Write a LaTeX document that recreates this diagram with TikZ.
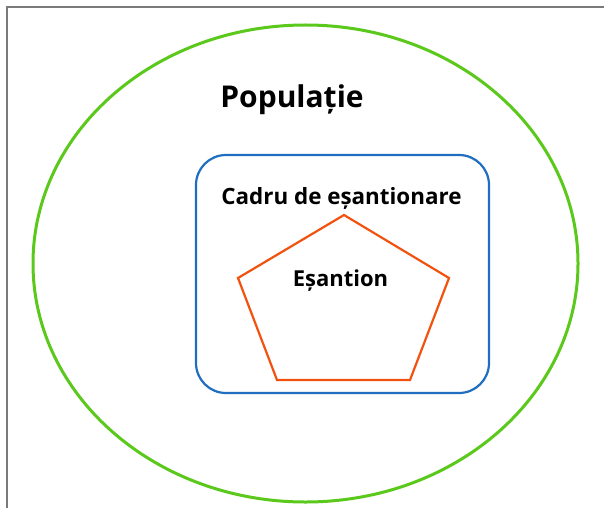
\documentclass[tikz,border=0pt]{standalone}
\usepackage{fontspec}
\setmainfont{Open Sans}
\definecolor{popgreen}{HTML}{5BC91C}
\definecolor{frameblue}{HTML}{1F6EC0}
\definecolor{samporange}{HTML}{F2520F}
\definecolor{edgegray}{HTML}{7A7A7A}
\tikzset{
  lbl/.style={font=\bfseries, text=black, inner sep=0pt, anchor=base},
}
\begin{document}
\begin{tikzpicture}[x=1pt,y=-1pt]
\useasboundingbox (0,0) rectangle (604,508);
\fill[white] (0,0) rectangle (604,508);
% frame edges
\draw[edgegray, line width=2pt] (7,508) -- (7,7) -- (604,7);
% population
\draw[popgreen, line width=3pt] (305.5,263.5) ellipse [x radius=272.5, y radius=238.5];
\node[lbl, font=\bfseries\fontsize{30}{35}\selectfont] (pop) at (292,107) {Populație};
% sampling frame
\draw[frameblue, line width=2.2pt, rounded corners=30pt] (196,155) rectangle (489,393);
\node[lbl, font=\bfseries\fontsize{22.4}{26}\selectfont] (frame) at (341.5,204) {Cadru de eșantionare};
% sample
\draw[samporange, line width=2.2pt, line join=miter] (344,215) -- (449,278) -- (410,380) -- (277,380) -- (238,278) -- cycle;
\node[lbl, font=\bfseries\fontsize{22}{26}\selectfont] (samp) at (340.5,286) {Eșantion};
\end{tikzpicture}
\end{document}
